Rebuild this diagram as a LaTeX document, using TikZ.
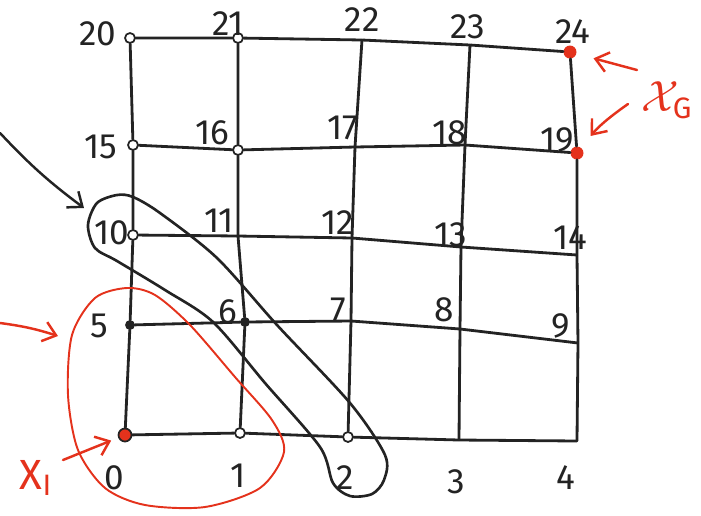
\documentclass[tikz,border=0pt]{standalone}
\usepackage{fontspec}
\setmainfont{Fira Sans}
\usetikzlibrary{arrows.meta}
\definecolor{ink}{RGB}{35,35,35}
\definecolor{pen}{RGB}{228,50,28}
\tikzset{
  vx/.style={circle, inner sep=0pt, minimum size=0pt},
  knot/.style={vx, draw=ink, line width=1pt, minimum size=2mm},
  hit/.style={vx, fill=pen, minimum size=2.6mm},
  num/.style={font=\fontsize{20}{22}\selectfont, text=ink, inner sep=1pt},
  tag/.style={font=\fontsize{24}{26}\selectfont, text=pen, inner sep=1pt},
  edge/.style={draw=ink, line width=1.6pt, line cap=round, line join=round},
  ring/.style={line width=1.5pt},
  pointer/.style={-{Straight Barb[length=2.5mm, width=4mm]}, line width=1.4pt, line cap=round},
}

\begin{document}
\begin{tikzpicture}[x=0.02cm, y=-0.02cm]
  \useasboundingbox (0,0) rectangle (701,515);

  % grid points
  \node[hit, draw=ink, line width=1pt] (v0) at (125,435) {};
  \node[knot] (v1) at (240,433) {};
  \node[knot] (v2) at (348,437) {};
  \node[vx] (v3) at (459,440) {};
  \node[vx] (v4) at (577,441) {};
  \node[knot, fill=ink, minimum size=1.6mm] (v5) at (130,325) {};
  \node[knot, fill=ink, minimum size=1.6mm] (v6) at (245,322) {};
  \node[vx] (v7) at (351,321) {};
  \node[vx] (v8) at (460,329) {};
  \node[vx] (v9) at (578,343) {};
  \node[knot] (v10) at (133,235) {};
  \node[vx] (v11) at (238,236) {};
  \node[vx] (v12) at (352,238) {};
  \node[vx] (v13) at (461,247) {};
  \node[vx] (v14) at (577,255) {};
  \node[knot] (v15) at (133,145) {};
  \node[knot] (v16) at (238,150) {};
  \node[vx] (v17) at (355,147) {};
  \node[vx] (v18) at (465,145) {};
  \node[hit] (v19) at (577,153) {};
  \node[knot] (v20) at (130,38) {};
  \node[knot] (v21) at (238,38) {};
  \node[vx] (v22) at (362,40) {};
  \node[vx] (v23) at (470,45) {};
  \node[hit] (v24) at (570,52) {};

  % rows
  \draw[edge] (v0) -- (v1) -- (v2) -- (v3) -- (v4);
  \draw[edge] (v5) -- (v6) -- (v7) -- (v8) -- (v9);
  \draw[edge] (v10) -- (v11) -- (v12) -- (v13) -- (v14);
  \draw[edge] (v15) -- (v16) -- (v17) -- (v18) -- (v19);
  \draw[edge] (v20) -- (v21) -- (v22) -- (v23) -- (v24);
  % columns
  \draw[edge] (v0) -- (v5) -- (v10) -- (v15) -- (v20);
  \draw[edge] (v1) -- (v6) -- (v11) -- (v16) -- (v21);
  \draw[edge] (v2) -- (v7) -- (v12) -- (v17) -- (v22);
  \draw[edge] (v3) -- (v8) -- (v13) -- (v18) -- (v23);
  \draw[edge] (v4) -- (v9) -- (v14) -- (v19) -- (v24);

  % numbers
  \node[num] (n0) at (114,478) {0};
  \node[num] (n1) at (238,476) {1};
  \node[num] (n2) at (345,478) {2};
  \node[num] (n3) at (456,482) {3};
  \node[num] (n4) at (566,478) {4};
  \node[num] (n5) at (99,326) {5};
  \node[num] (n6) at (228,312) {6};
  \node[num] (n7) at (338,310) {7};
  \node[num] (n8) at (444,310) {8};
  \node[num] (n9) at (561,326) {9};
  \node[num] (n10) at (112,233) {10};
  \node[num] (n11) at (219,221) {11};
  \node[num] (n12) at (338,223) {12};
  \node[num] (n13) at (451,235) {13};
  \node[num] (n14) at (570,238) {14};
  \node[num] (n15) at (101,147) {15};
  \node[num] (n16) at (212,133) {16};
  \node[num] (n17) at (343,128) {17};
  \node[num] (n18) at (450,133) {18};
  \node[num] (n19) at (557,140) {19};
  \node[num] (n20) at (98,34) {20};
  \node[num] (n21) at (228,24) {21};
  \node[num] (n22) at (362,20) {22};
  \node[num] (n23) at (468,27) {23};
  \node[num] (n24) at (573,32) {24};

  % the two loops
  \draw[ring, ink] plot[smooth cycle] coordinates {(117,195) (133,197) (160,213)
    (217,258) (277,325) (350,403) (385,455) (384,480) (372,494) (350,496)
    (333,483) (320,447) (265,383) (213,322) (165,290) (117,261) (95,248)
    (88,225) (97,203)};
  \draw[ring, pen, line width=1.1pt] plot[smooth cycle] coordinates {(127,288)
    (95,298) (72,335) (68,395) (78,450) (105,488) (145,505) (205,507) (260,488)
    (284,452) (272,420) (235,377) (190,325) (155,295)};

  % labels and pointers
  \node[tag] (xi) at (36,478) {X\textsubscript{I}};
  \node[tag] (xg) at (667,100) {$\mathcal{X}_{\mathrm{G}}$};
  \coordinate (bfrom) at (0,133);
  \coordinate (bto) at (84,208);
  \coordinate (rfrom) at (0,323);
  \coordinate (rto) at (58,336);
  \coordinate (xfrom) at (63,460);
  \coordinate (gfrom1) at (637,70);
  \coordinate (gfrom2) at (628,104);
  \draw[pointer, ink] (bfrom) to[bend right=5] (bto);
  \draw[pointer, pen] (rfrom) to[bend left=5] (rto);
  \draw[pointer, pen, shorten >=1.5mm] (xfrom) -- (v0);
  \draw[pointer, pen, shorten >=3.5mm] (gfrom1) -- (v24);
  \draw[pointer, pen, shorten >=3mm] (gfrom2) to[bend right=8] (v19);
\end{tikzpicture}
\end{document}
